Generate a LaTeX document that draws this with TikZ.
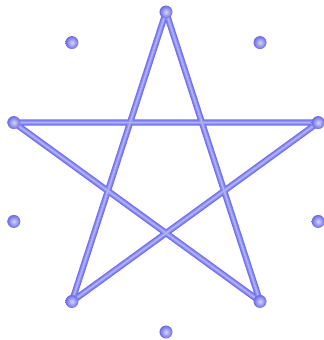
\documentclass[tikz,border=0pt]{standalone}
\usepackage{tikz}
\usetikzlibrary{positioning,calc}
\definecolor{starblue}{RGB}{112,112,240}

\begin{document}
\begin{tikzpicture}[
  ball/.style={circle,inner sep=0pt,minimum size=0.13cm,
               inner color=starblue!30!white,outer color=starblue!95!black},
  tube/.style={draw=starblue,line width=1.8pt,line join=round},
  midtube/.style={draw=starblue!80!white,line width=1.1pt,line join=round},
  glow/.style={draw=starblue!55!white,line width=0.45pt,line join=round}
]
\useasboundingbox (-1.66,-1.68) rectangle (1.58,1.72);
% ten points round the circle
\foreach \i in {0,...,9}
  \coordinate (c\i) at ({90+36*\i}:1.6);

\draw[tube] (c0) -- (c4) -- (c8) -- (c2) -- (c6) -- cycle;
\draw[midtube] (c0) -- (c4) -- (c8) -- (c2) -- (c6) -- cycle;
\draw[glow] (c0) -- (c4) -- (c8) -- (c2) -- (c6) -- cycle;

\foreach \i in {0,...,9}
  \node[ball] (p\i) at (c\i) {};
\end{tikzpicture}
\end{document}
